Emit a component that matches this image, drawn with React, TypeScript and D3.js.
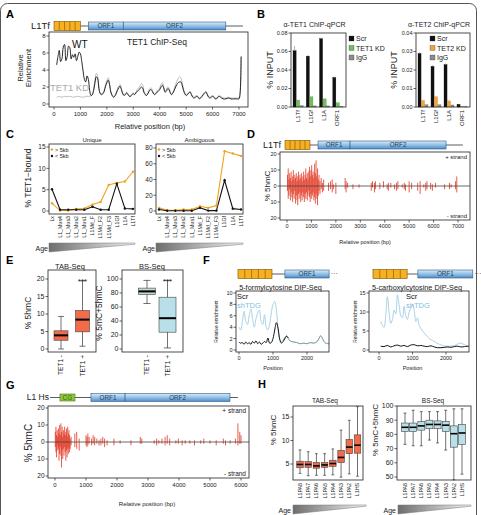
import React from 'react';
import * as d3 from 'd3';

const FONT = '"Liberation Sans", Arial, Helvetica, sans-serif';
const INK = '#222';
const RED = '#e1341e';
const TAB_FILL = '#f26b4b';
const BS_FILL = '#b9dfe9';
const SHTDG = '#a9d3e6';

// A: TET1 ChIP-Seq enrichment along L1Tf  [position bp, enrichment]
const chipWT: [number, number][] = [
  [100, 4.6], [150, 5.6], [200, 6.3], [250, 5.0], [300, 5.3], [350, 6.7], [400, 7.0], [450, 5.1],
  [500, 5.6], [550, 6.8], [600, 6.6], [650, 5.3], [700, 5.8], [750, 5.5], [800, 5.9], [850, 5.1],
  [900, 5.6], [950, 6.1], [1000, 5.9], [1050, 5.0], [1100, 3.9], [1150, 2.9], [1200, 2.6], [1250, 3.3],
  [1300, 2.9], [1350, 1.6], [1400, 1.0], [1450, 1.1], [1500, 1.6], [1550, 2.5], [1600, 3.2], [1650, 3.0],
  [1700, 1.8], [1750, 1.2], [1800, 1.1], [1850, 1.2], [1900, 1.5], [1950, 2.1], [2000, 2.5], [2050, 2.8],
  [2100, 2.3], [2150, 1.4], [2200, 1.0], [2250, 0.8], [2300, 0.9], [2350, 1.2], [2400, 1.6], [2450, 1.9],
  [2500, 2.1], [2550, 1.7], [2600, 1.2], [2650, 1.0], [2700, 1.1], [2750, 1.3], [2800, 1.1], [2850, 0.9],
  [2900, 0.9], [2950, 1.1], [3000, 1.2], [3050, 1.1], [3100, 1.3], [3150, 1.5], [3200, 1.6], [3250, 1.8],
  [3300, 2.0], [3350, 1.9], [3400, 1.4], [3450, 1.1], [3500, 1.0], [3550, 1.2], [3600, 1.5], [3650, 1.7],
  [3700, 1.6], [3750, 1.3], [3800, 1.1], [3850, 1.2], [3900, 1.4], [3950, 1.5], [4000, 1.7], [4050, 2.0],
  [4100, 2.2], [4150, 1.9], [4200, 1.4], [4250, 1.5], [4300, 1.8], [4350, 1.7], [4400, 1.3], [4450, 1.1],
  [4500, 1.3], [4550, 1.6], [4600, 2.0], [4650, 2.3], [4700, 2.5], [4750, 2.6], [4800, 2.6], [4850, 2.2],
  [4900, 1.6], [4950, 1.2], [5000, 1.0], [5050, 1.1], [5100, 1.3], [5150, 1.4], [5200, 1.1], [5250, 0.8],
  [5300, 0.7], [5350, 0.8], [5400, 0.9], [5450, 0.8], [5500, 0.6], [5550, 0.7], [5600, 0.9], [5650, 1.1],
  [5700, 1.3], [5750, 1.4], [5800, 1.1], [5850, 0.8], [5900, 0.7], [5950, 0.8], [6000, 0.9], [6050, 0.8],
  [6100, 0.6], [6150, 0.6], [6200, 0.8], [6250, 0.9], [6300, 0.8], [6400, 0.6], [6500, 0.6], [6600, 0.7],
  [6700, 0.6], [6800, 0.6], [6900, 0.6], [6950, 0.6], [7000, 0.6], [7040, 1.2], [7080, 5.6],
];
const chipKD: [number, number][] = [
  [100, 0.8], [200, 0.9], [300, 0.8], [400, 0.9], [500, 0.85], [600, 0.9], [700, 0.8], [800, 0.85],
  [900, 0.9], [1000, 0.85], [1100, 0.8], [1200, 0.9], [1300, 0.9], [1350, 0.9], [1400, 0.95], [1450, 1.1],
  [1500, 1.8], [1550, 2.8], [1600, 3.6], [1650, 3.3], [1700, 2.0], [1750, 1.3], [1800, 1.2], [1850, 1.3],
  [1900, 1.6], [1950, 2.3], [2000, 2.8], [2050, 3.1], [2100, 2.5], [2150, 1.5], [2200, 1.1], [2250, 0.9],
  [2300, 1.0], [2350, 1.3], [2400, 1.8], [2450, 2.1], [2500, 2.3], [2550, 1.8], [2600, 1.3], [2650, 1.1],
  [2700, 1.2], [2750, 1.4], [2800, 1.2], [2850, 1.0], [2900, 1.0], [2950, 1.2], [3000, 1.3], [3050, 1.2],
  [3100, 1.4], [3150, 1.7], [3200, 1.9], [3250, 2.1], [3300, 2.4], [3350, 2.3], [3400, 1.6], [3450, 1.2],
  [3500, 1.1], [3550, 1.3], [3600, 1.7], [3650, 1.9], [3700, 1.8], [3750, 1.4], [3800, 1.2], [3850, 1.3],
  [3900, 1.6], [3950, 1.7], [4000, 1.9], [4050, 2.3], [4100, 2.5], [4150, 2.1], [4200, 1.5], [4250, 1.7],
  [4300, 2.0], [4350, 1.9], [4400, 1.4], [4450, 1.2], [4500, 1.4], [4550, 1.8], [4600, 2.3], [4650, 2.7],
  [4700, 3.0], [4750, 3.2], [4800, 3.1], [4850, 2.5], [4900, 1.8], [4950, 1.3], [5000, 1.1], [5050, 1.2],
  [5100, 1.4], [5150, 1.5], [5200, 1.2], [5250, 0.9], [5300, 0.8], [5350, 0.9], [5400, 1.0], [5450, 0.9],
  [5500, 0.7], [5550, 0.8], [5600, 1.0], [5650, 1.2], [5700, 1.4], [5750, 1.5], [5800, 1.2], [5850, 0.9],
  [5900, 0.8], [5950, 0.9], [6000, 1.0], [6050, 0.9], [6100, 0.7], [6150, 0.7], [6200, 0.9], [6250, 1.0],
  [6300, 0.9], [6400, 0.7], [6500, 0.7], [6600, 0.8], [6700, 0.7], [6800, 0.7], [6900, 0.7], [6950, 0.7],
  [7000, 0.8], [7040, 1.3], [7080, 5.5],
];
const posTicks7k = [0, 1000, 2000, 3000, 4000, 5000, 6000, 7000];
const chipTicksY = [0, 2, 4, 6, 8];

// B: ChIP-qPCR (% input)
const qpcrTargets = ['L1Tf', 'L1Gf', 'L1A', 'ORF1'];
const tet1Scr = [0.061, 0.055, 0.074, 0.032];
const tet1ScrErr = [0.005, 0.001, 0.001, 0.001];
const tet1KD = [0.0075, 0.011, 0.0088, 0.0045];
const tet1IgG = [0.0015, 0.0012, 0.0012, 0.0008];
const tet2Scr = [0.029, 0.022, 0.023, 0.0015];
const tet2ScrErr = [0.0006, 0.0006, 0.0005, 0.0002];
const tet2KD = [0.0035, 0.0055, 0.0033, 0.0003];
const tet2IgG = [0.0012, 0.0012, 0.0011, 0.0002];
const tet1QTicks = [0, 0.02, 0.04, 0.06, 0.08];
const tet2QTicks = [0, 0.01, 0.02, 0.03, 0.04];

// C: % of elements TET1-bound per L1 family (oldest -> youngest)
const l1Families = ['Lx', 'L1_Mus4', 'L1_Mus3', 'L1_Mus2', 'L1_Mus1', 'L1Md_F', 'L1Md_F2', 'L1Md_F3', 'L1Gf', 'L1A', 'L1Tf'];
const uniqueLong = [1.8, 0.1, 0.1, 0.5, 0.6, 1.5, 2.1, 6.1, 6.6, 6.9, 9.2];
const uniqueShort = [5.1, 0.3, 0.3, 0.3, 0.3, 1.0, 0.3, 0.3, 6.4, 0.6, 0.5];
const ambigLong = [4, 1, 1, 2, 2, 6, 4, 7, 76, 73, 70];
const ambigShort = [2, 0.3, 0.3, 0.3, 0.3, 4, 0.5, 0.5, 39, 3, 2];
const uniqueTicks = [0, 5, 10, 15];
const ambigTicks = [0, 20, 40, 60, 80];

// D: TAB-Seq 5hmC along L1Tf  [position, + strand, - strand]
const l1TfHmc: [number, number, number][] = [
  [20, 7, 3], [50, 11, 8], [80, 4, 6], [110, 8, 2], [140, 5, 9], [170, 9, 4], [200, 3, 7], [230, 6, 10],
  [260, 10, 5], [290, 4, 8], [320, 7, 3], [350, 5, 11], [380, 8, 6], [410, 3, 9], [440, 6, 12], [470, 9, 5],
  [500, 4, 8], [530, 7, 4], [560, 5, 10], [590, 8, 6], [620, 3, 9], [650, 6, 4], [680, 9, 7], [710, 4, 10],
  [740, 7, 5], [770, 11, 8], [800, 5, 4], [830, 8, 9], [860, 4, 6], [890, 9, 3], [920, 12, 7], [950, 6, 10],
  [980, 10, 5], [1010, 13, 8], [1040, 7, 6], [1070, 9, 4], [1100, 5, 9], [1130, 14, 7], [1160, 8, 11],
  [1190, 16, 5], [1220, 6, 8], [1250, 11, 12], [1280, 4, 6], [1310, 7, 3], [1350, 3, 5], [1400, 5, 2],
  [1450, 2, 4], [1500, 4, 3],
  [1700, 2, 3], [1780, 3, 2], [1850, 4, 4], [1900, 1, 2], [2000, 2, 5], [2380, 5, 2], [2420, 3, 4],
  [2480, 2, 1], [2700, 1, 2], [2950, 1, 1], [3450, 2, 3], [3500, 3, 1], [3580, 2, 4], [3620, 3, 2],
  [3800, 2, 2], [3950, 3, 1], [4100, 1, 2], [4150, 2, 3], [4250, 2, 1], [4400, 1, 2], [4480, 2, 3],
  [4540, 3, 2], [4720, 1, 1], [4800, 2, 2], [4850, 1, 3], [5000, 3, 4], [5100, 2, 2], [5350, 2, 3],
  [5450, 3, 5], [5600, 1, 1], [5680, 2, 3], [5730, 3, 2], [5880, 2, 2], [5950, 1, 3], [6080, 2, 1],
  [6450, 1, 2], [6650, 2, 2], [6720, 1, 1], [6900, 3, 2], [6950, 6, 4],
];
const strandTicks = [-20, -10, 0, 10, 20];

// E: 5hmC / 5mC+5hmC by TET1 binding
const tetGroups = ['TET1 -', 'TET1 +'];
const tabLo = [0, 0.8];
const tabQ1 = [2.5, 4.9];
const tabMed = [3.9, 8.4];
const tabQ3 = [5.2, 11];
const tabHi = [9.3, 19.5];
const bsLo = [65, 1.5];
const bsQ1 = [77.6, 24];
const bsMed = [82.3, 44];
const bsQ3 = [87, 74];
const bsHi = [98, 98];
const tabTicksE = [0, 5, 10, 15, 20];
const bsTicksE = [0, 20, 40, 60, 80, 100];

// F: 5fC and 5caC DIP-Seq over L1 5' end  [position, enrichment]
const fcShTDG: [number, number][] = [
  [0, 4.0], [50, 3.5], [100, 5.0], [150, 6.8], [200, 5.0], [250, 4.5], [300, 6.0], [350, 7.2], [400, 5.5],
  [450, 4.0], [500, 5.5], [550, 6.5], [600, 7.0], [650, 5.0], [700, 4.5], [750, 6.2], [800, 4.0], [850, 3.5],
  [900, 4.5], [950, 6.5], [1000, 8.0], [1050, 8.5], [1100, 7.0], [1150, 3.5], [1200, 2.0], [1250, 1.5],
  [1300, 1.8], [1350, 2.2], [1400, 2.5], [1450, 2.0], [1500, 1.6], [1600, 1.4], [1700, 1.3], [1800, 1.1],
  [1900, 1.2], [2000, 1.1], [2100, 1.3], [2200, 1.2], [2300, 1.5], [2350, 2.0], [2400, 2.5], [2450, 2.1],
  [2500, 1.5], [2550, 1.2], [2650, 1.1],
];
const fcScr: [number, number][] = [
  [0, 1.4], [50, 1.2], [100, 1.3], [150, 1.0], [200, 1.4], [250, 1.1], [300, 1.3], [350, 1.0], [400, 1.5],
  [450, 1.2], [500, 1.6], [550, 1.1], [600, 1.4], [650, 1.0], [700, 1.2], [750, 1.5], [800, 1.3], [850, 2.1],
  [900, 1.2], [950, 1.3], [1000, 2.0], [1050, 3.5], [1100, 4.8], [1150, 3.8], [1200, 1.8], [1250, 1.2],
  [1300, 1.5], [1350, 2.0], [1400, 2.4], [1450, 2.1],
];
const cacShTDG: [number, number][] = [
  [50, 7.5], [100, 6.5], [150, 6.0], [200, 9.0], [250, 14.0], [300, 10.0], [350, 7.0], [400, 8.0],
  [450, 10.5], [500, 9.5], [550, 14.5], [600, 12.0], [650, 9.0], [700, 8.5], [750, 11.5], [800, 9.0],
  [850, 8.0], [900, 10.0], [950, 11.0], [1000, 12.0], [1050, 10.5], [1100, 7.5], [1150, 8.5], [1200, 6.5],
  [1300, 5.0], [1400, 4.0], [1500, 3.0], [1600, 2.5], [1700, 2.0], [1800, 1.5], [1900, 1.2], [2000, 1.0],
  [2100, 1.0], [2200, 1.1], [2300, 1.3], [2400, 1.8], [2500, 1.6], [2600, 1.2], [2680, 1.0],
];
const cacScr: [number, number][] = [
  [50, 1.0], [150, 0.9], [250, 1.2], [350, 0.8], [450, 1.1], [550, 1.3], [650, 1.0], [750, 1.2], [850, 0.9],
  [950, 1.3], [1050, 1.4], [1150, 1.1], [1250, 1.2], [1350, 1.0], [1450, 0.9], [1550, 1.1], [1650, 0.8],
  [1750, 0.6], [1850, 0.6], [1950, 0.7], [2050, 0.8], [2150, 0.7], [2250, 0.9], [2350, 1.0], [2450, 0.8],
  [2550, 0.9], [2680, 1.0],
];
const dipTicksX = [0, 1000, 2000];
const fcTicksY = [0, 2, 4, 6, 8, 10];
const cacTicksY = [0, 5, 10, 15];

// G: TAB-Seq 5hmC along human L1Hs  [position, + strand, - strand]
const l1HsHmc: [number, number, number][] = [
  [10, 6, 3], [30, 9, 6], [50, 4, 9], [70, 7, 2], [90, 3, 5], [110, 8, 4], [130, 5, 11], [150, 10, 7],
  [170, 4, 3], [190, 11, 8], [210, 6, 15], [230, 9, 5], [250, 3, 10], [270, 7, 4], [290, 5, 8], [310, 9, 3],
  [330, 4, 6], [350, 6, 11], [370, 8, 5], [390, 3, 9], [410, 9, 4], [430, 5, 7], [450, 7, 3], [470, 4, 6],
  [490, 2, 4], [520, 3, 2], [640, 5, 3], [700, 6, 4], [780, 2, 5], [1000, 4, 2], [1030, 3, 3], [1060, 5, 2],
  [1100, 3, 1], [1180, 2, 2], [1230, 4, 1], [1280, 3, 2], [1350, 2, 1], [1420, 1, 2], [1480, 2, 2],
  [1540, 3, 1], [1600, 2, 3], [1680, 1, 2], [1900, 2, 2], [2100, 1, 1], [2450, 1, 2], [2750, 3, 1],
  [2800, 2, 1], [3200, 1, 1], [3280, 2, 2], [3350, 1, 1], [3450, 2, 1], [3550, 3, 2], [3620, 4, 1],
  [3700, 2, 2], [3900, 1, 1], [3980, 2, 1], [4100, 1, 2], [4200, 1, 1], [4350, 1, 1], [4500, 1, 2],
  [4700, 1, 1], [4800, 2, 1], [5000, 1, 1], [5200, 1, 2], [5430, 2, 1], [5500, 1, 2], [5650, 1, 1],
  [5820, 2, 1], [5900, 11, 2], [5960, 6, 1], [6000, 4, 1],
];
const posTicks6k = [0, 1000, 2000, 3000, 4000, 5000, 6000];

// H: human L1PA subfamilies (oldest -> youngest)
const l1paFamilies = ['L1PA8', 'L1PA7', 'L1PA6', 'L1PA5', 'L1PA4', 'L1PA3', 'L1PA2', 'L1HS'];
const hTabLo = [3.0, 2.5, 2.6, 2.6, 2.7, 2.2, 2.9, 2.4];
const hTabQ1 = [4.2, 4.3, 4.1, 4.3, 4.5, 5.3, 7.2, 7.3];
const hTabMed = [4.9, 4.9, 4.6, 4.8, 5.1, 6.4, 8.6, 9.0];
const hTabQ3 = [5.6, 5.5, 5.3, 5.3, 5.8, 7.9, 10.2, 11.2];
const hTabHi = [8.0, 7.6, 7.2, 7.2, 8.2, 12.2, 14.3, 17.2];
const hBsLo = [73, 72, 72, 76, 74, 69, 48, 52];
const hBsQ1 = [82, 82, 83, 84, 84, 82, 71, 73];
const hBsMed = [85, 85, 86, 87, 87, 86.5, 80.5, 81];
const hBsQ3 = [88, 88, 89, 90, 89.5, 89, 86, 87];
const hBsHi = [95, 97, 96, 96, 96, 97, 98, 98];
const hTabTicks = [5, 10, 15];
const hBsTicks = [50, 60, 70, 80, 90, 100];

type S = (v: number) => number;

function YAxis({ scale, x, ticks, size = 6, fmt = (v: number) => String(v) }: { scale: S; x: number; ticks: number[]; size?: number; fmt?: (v: number) => string }) {
  return (
    <g>
      {ticks.map(t => (
        <g key={t}>
          <line x1={x - 2.5} x2={x} y1={scale(t)} y2={scale(t)} stroke={INK} strokeWidth={0.7} />
          <text x={x - 3.5} y={scale(t)} dy="0.35em" textAnchor="end" fontSize={size} fill={INK}>{fmt(t)}</text>
        </g>
      ))}
    </g>
  );
}

function XAxis({ scale, y, ticks, size = 6 }: { scale: S; y: number; ticks: number[]; size?: number }) {
  return (
    <g>
      {ticks.map(t => (
        <g key={t}>
          <line x1={scale(t)} x2={scale(t)} y1={y} y2={y + 2.5} stroke={INK} strokeWidth={0.7} />
          <text x={scale(t)} y={y + 3.5 + size * 0.85} textAnchor="middle" fontSize={size} fill={INK}>{t}</text>
        </g>
      ))}
    </g>
  );
}

function Frame({ x0, y0, x1, y1 }: { x0: number; y0: number; x1: number; y1: number }) {
  return <rect x={x0} y={y0} width={x1 - x0} height={y1 - y0} fill="none" stroke={INK} strokeWidth={0.8} />;
}

function VLabel({ x, y, size, children }: { x: number; y: number; size: number; children: React.ReactNode }) {
  return (
    <text transform={`translate(${x},${y}) rotate(-90)`} textAnchor="middle" fontSize={size} fill={INK}>{children}</text>
  );
}

function CatLabels({ cats, x, y, size }: { cats: string[]; x: (c: string) => number; y: number; size: number }) {
  return (
    <g>
      {cats.map(c => (
        <text key={c} transform={`translate(${x(c)},${y}) rotate(-90)`} textAnchor="end" dy="0.35em" fontSize={size} fill={INK}>{c}</text>
      ))}
    </g>
  );
}

function AgeWedge({ x0, x1, top, bottom, labelX }: { x0: number; x1: number; top: number; bottom: number; labelX: number }) {
  return (
    <g>
      <text x={labelX} y={bottom - 1} textAnchor="end" fontSize={7} fill={INK}>Age</text>
      <polygon points={`${x0},${top} ${x1},${top} ${x1},${top + 1.2} ${x0},${bottom}`} fill="url(#ageGrad)" stroke="#777" strokeWidth={0.5} />
    </g>
  );
}

// element map: monomer/CpG block, linker line, ORF boxes
function Gene({ x, cy, name, nameX, head, headKind, orfs, lineFrom, lineTo, dotsAt, nameSize = 9.5 }: {
  x: S; cy: number; name?: string; nameX?: number; head: [number, number]; headKind: 'monomer' | 'cg';
  orfs: [string, number, number][]; lineFrom: number; lineTo: number; dotsAt?: number; nameSize?: number;
}) {
  const hx0 = x(head[0]);
  const hx1 = x(head[1]);
  const cells = 5;
  return (
    <g>
      {name && <text x={nameX} y={cy + nameSize * 0.35} textAnchor="end" fontSize={nameSize} fill={INK}>{name}</text>}
      <line x1={x(lineFrom)} x2={x(lineTo)} y1={cy} y2={cy} stroke="#333" strokeWidth={0.8} />
      {headKind === 'monomer' ? (
        <g>
          <rect x={hx0} y={cy - 4.5} width={hx1 - hx0} height={9} fill="#f6b021" stroke="#7a5200" strokeWidth={0.6} />
          {d3.range(1, cells).map(i => (
            <line key={i} x1={hx0 + (i * (hx1 - hx0)) / cells} x2={hx0 + (i * (hx1 - hx0)) / cells} y1={cy - 4.5} y2={cy + 4.5} stroke="#7a5200" strokeWidth={0.6} />
          ))}
        </g>
      ) : (
        <g>
          <rect x={hx0} y={cy - 3.5} width={hx1 - hx0} height={7} fill="#8cc63e" stroke="#4d7a13" strokeWidth={0.6} />
          <text x={(hx0 + hx1) / 2} y={cy + 2.3} textAnchor="middle" fontSize={6.5} fill="#3d6a0a">CG</text>
        </g>
      )}
      {orfs.map(([label, a, b]) => (
        <g key={label}>
          <rect x={x(a)} y={cy - 4} width={x(b) - x(a)} height={8} fill="url(#orfGrad)" stroke="#2b5b86" strokeWidth={0.6} />
          <text x={(x(a) + x(b)) / 2} y={cy + 2.3} textAnchor="middle" fontSize={6.3} fill="#1d3d5c">{label}</text>
        </g>
      ))}
      {dotsAt !== undefined && <text x={x(dotsAt)} y={cy + 1.5} fontSize={7} fill="#333">···</text>}
    </g>
  );
}

function PanelA() {
  const x = d3.scaleLinear().domain([0, 7000]).range([54, 239]);
  const y = d3.scaleLinear().domain([0, 8]).range([104, 36]);
  const line = d3.line<[number, number]>().x(d => x(d[0])).y(d => y(d[1])).curve(d3.curveCatmullRom);
  return (
    <g>
      <text x={6} y={18} fontSize={11} fontWeight="bold">A</text>
      <Gene x={x} cy={26} name="L1Tf" nameX={50} head={[0, 1000]} headKind="monomer"
        orfs={[['ORF1', 1300, 2620], ['ORF2', 2620, 6500]]} lineFrom={1000} lineTo={7150} />
      <path d={line(chipKD) || ''} fill="none" stroke="#bdbdbd" strokeWidth={1} />
      <path d={line(chipWT) || ''} fill="none" stroke="#111" strokeWidth={0.9} />
      <Frame x0={49} y0={32} x1={248} y1={107} />
      <YAxis scale={y} x={49} ticks={chipTicksY} size={6} />
      <XAxis scale={x} y={107} ticks={posTicks7k} size={6} />
      <text x={157} y={45} textAnchor="middle" fontSize={8.5} fill={INK}>TET1 ChIP-Seq</text>
      <text x={72} y={48} fontSize={10} fill="#111">WT</text>
      <text x={50} y={91} fontSize={9.5} fill="#aaa">TET1 KD</text>
      <text x={150} y={129} textAnchor="middle" fontSize={7.5} fill={INK}>Relative position (bp)</text>
      <VLabel x={23} y={68} size={7.5}>Relative</VLabel>
      <VLabel x={31} y={68} size={7.5}>Enrichment</VLabel>
    </g>
  );
}

function QpcrPanel({ x0, x1, bandEnd, title, max, ticks, scr, scrErr, kd, igg, kdColor, kdLabel, legendX, ylabelX }: {
  x0: number; x1: number; bandEnd: number; title: string; max: number; ticks: number[]; scr: number[]; scrErr: number[];
  kd: number[]; igg: number[]; kdColor: string; kdLabel: string; legendX: number; ylabelX: number;
}) {
  const y = d3.scaleLinear().domain([0, max]).range([107, 33]);
  const xb = d3.scaleBand<string>().domain(qpcrTargets).range([x0, bandEnd]);
  const inner = d3.scaleBand<string>().domain(['scr', 'kd', 'igg']).range([2, xb.bandwidth() - 1]).paddingInner(0.12);
  const series: [string, number[], string][] = [['scr', scr, '#111'], ['kd', kd, kdColor], ['igg', igg, '#8c8c8c']];
  const legend: [string, string][] = [['Scr', '#111'], [kdLabel, kdColor], ['IgG', '#8c8c8c']];
  return (
    <g>
      <text x={(x0 + x1) / 2 - 4} y={26.5} textAnchor="middle" fontSize={7} fill={INK}>{title}</text>
      {series.map(([key, vals, color]) =>
        qpcrTargets.map((t, i) => (
          <rect key={key + t} x={(xb(t) || 0) + (inner(key) || 0)} y={y(vals[i])} width={inner.bandwidth()}
            height={y(0) - y(vals[i])} fill={color} stroke={key === 'scr' ? '#111' : d3.color(color)?.darker(0.8).toString()} strokeWidth={0.3} />
        ))
      )}
      {qpcrTargets.map((t, i) => {
        const cx = (xb(t) || 0) + (inner('scr') || 0) + inner.bandwidth() / 2;
        return <line key={t} x1={cx} x2={cx} y1={y(scr[i])} y2={y(scr[i] + scrErr[i])} stroke="#999" strokeWidth={0.8} />;
      })}
      <Frame x0={x0} y0={33} x1={x1} y1={107} />
      <YAxis scale={y} x={x0} ticks={ticks} size={5.5} fmt={d3.format('.2f')} />
      <CatLabels cats={qpcrTargets} x={t => (xb(t) || 0) + xb.bandwidth() / 2} y={110} size={6} />
      <VLabel x={ylabelX} y={70} size={9}>% INPUT</VLabel>
      {legend.map(([label, color], i) => (
        <g key={label}>
          <rect x={legendX} y={36 + i * 9.5} width={5} height={5} fill={color} stroke="#333" strokeWidth={0.3} />
          <text x={legendX + 7} y={41 + i * 9.5} fontSize={7} fill={INK}>{label}</text>
        </g>
      ))}
    </g>
  );
}

function TetBoundPanel({ x0, x1, title, max, ticks, long, short, ylabel }: {
  x0: number; x1: number; title: string; max: number; ticks: number[]; long: number[]; short: number[]; ylabel?: boolean;
}) {
  const y = d3.scaleLinear().domain([0, max]).range([211, max === 15 ? 147 : 148]);
  const x = d3.scalePoint<string>().domain(l1Families).range([x0 + 3, x1 - 2]);
  const line = d3.line<number>().x((_, i) => x(l1Families[i]) || 0).y(d => y(d));
  return (
    <g>
      <text x={(x0 + x1) / 2} y={142} textAnchor="middle" fontSize={6} fill={INK}>{title}</text>
      <path d={line(long) || ''} fill="none" stroke="#f0a21e" strokeWidth={1.1} />
      <path d={line(short) || ''} fill="none" stroke="#111" strokeWidth={1.1} />
      {long.map((v, i) => <circle key={'l' + i} cx={x(l1Families[i])} cy={y(v)} r={1.2} fill="#f0a21e" />)}
      {short.map((v, i) => <circle key={'s' + i} cx={x(l1Families[i])} cy={y(v)} r={1.2} fill="#111" />)}
      <Frame x0={x0} y0={144} x1={x1} y1={214} />
      <YAxis scale={y} x={x0} ticks={ticks} size={6.5} />
      <CatLabels cats={l1Families} x={c => x(c) || 0} y={216} size={5.3} />
      <circle cx={x0 + 3} cy={149.5} r={1.2} fill="#f0a21e" />
      <text x={x0 + 6} y={151.5} fontSize={5.5} fill={INK}>{'> 5kb'}</text>
      <circle cx={x0 + 3} cy={156} r={1.2} fill="#111" />
      <text x={x0 + 6} y={158} fontSize={5.5} fill={INK}>{'< 5kb'}</text>
      <AgeWedge x0={x0} x1={x1} top={243} bottom={252} labelX={x0 - 1} />
      {ylabel && <VLabel x={31} y={178} size={8.5}>% TET1−bound</VLabel>}
    </g>
  );
}

function StrandPanel({ data, x, y, box, labelSize, tickSize }: {
  data: [number, number, number][]; x: d3.ScaleLinear<number, number>; y: d3.ScaleLinear<number, number>;
  box: [number, number, number, number]; labelSize: number; tickSize: number;
}) {
  const [x0, y0, x1, y1] = box;
  return (
    <g>
      {data.map(([p, up, dn]) => (
        <g key={p}>
          <line x1={x(p)} x2={x(p)} y1={y(0)} y2={y(up)} stroke={RED} strokeWidth={0.8} />
          <line x1={x(p)} x2={x(p)} y1={y(0)} y2={y(-dn)} stroke={RED} strokeWidth={0.8} />
        </g>
      ))}
      <line x1={x0} x2={x1} y1={y(0)} y2={y(0)} stroke="#444" strokeWidth={0.8} />
      <Frame x0={x0} y0={y0} x1={x1} y1={y1} />
      <YAxis scale={y} x={x0} ticks={strandTicks} size={tickSize} fmt={v => String(Math.abs(v))} />
      <text x={x1 - 3} y={y0 + 6.5} textAnchor="end" fontSize={labelSize} fill={INK}>+ strand</text>
      <text x={x1 - 3} y={y1 - 2} textAnchor="end" fontSize={labelSize} fill={INK}>- strand</text>
    </g>
  );
}

function PanelD() {
  const x = d3.scaleLinear().domain([0, 7000]).range([287, 458]);
  const y = d3.scaleLinear().domain([-20, 20]).range([218, 154]);
  return (
    <g>
      <text x={247} y={138} fontSize={11} fontWeight="bold">D</text>
      <Gene x={x} cy={145} name="L1Tf" nameX={281} nameSize={9} head={[-80, 940]} headKind="monomer"
        orfs={[['ORF1', 1270, 2580], ['ORF2', 2580, 6510]]} lineFrom={940} lineTo={7200} />
      <StrandPanel data={l1TfHmc} x={x} y={y} box={[280, 152, 470, 220]} labelSize={6} tickSize={5.5} />
      <XAxis scale={x} y={220} ticks={posTicks7k} size={5.5} />
      <text x={365} y={244} textAnchor="middle" fontSize={5.5} fill={INK}>Relative position (bp)</text>
      <VLabel x={270} y={186} size={8}>% 5hmC</VLabel>
    </g>
  );
}

function PanelG() {
  const x = d3.scaleLinear().domain([0, 6000]).range([55, 241]);
  const y = d3.scaleLinear().domain([-20, 20]).range([476, 408]);
  return (
    <g>
      <text x={6} y={389} fontSize={11} fontWeight="bold">G</text>
      <Gene x={x} cy={397.5} name="L1 Hs" nameX={49} nameSize={8.5} head={[160, 645]} headKind="cg"
        orfs={[['ORF1', 1160, 2260], ['ORF2', 2260, 5645]]} lineFrom={-160} lineTo={5900} />
      <StrandPanel data={l1HsHmc} x={x} y={y} box={[48, 406, 249, 478]} labelSize={6.5} tickSize={6.5} />
      <XAxis scale={x} y={478} ticks={posTicks6k} size={6} />
      <text x={147} y={506} textAnchor="middle" fontSize={6} fill={INK}>Relative position (bp)</text>
      <VLabel x={32} y={443} size={10}>% 5hmC</VLabel>
    </g>
  );
}

function BoxSet({ cats, x, y, width, lo, q1, med, q3, hi, fills, medW = 2 }: {
  cats: string[]; x: (c: string) => number; y: S; width: number; lo: number[]; q1: number[]; med: number[];
  q3: number[]; hi: number[]; fills: string[]; medW?: number;
}) {
  return (
    <g>
      {cats.map((c, i) => {
        const cx = x(c);
        const cap = width * 0.42;
        return (
          <g key={c}>
            <line x1={cx} x2={cx} y1={y(hi[i])} y2={y(lo[i])} stroke="#333" strokeWidth={0.7} />
            <line x1={cx - cap / 2} x2={cx + cap / 2} y1={y(hi[i])} y2={y(hi[i])} stroke="#333" strokeWidth={0.7} />
            <line x1={cx - cap / 2} x2={cx + cap / 2} y1={y(lo[i])} y2={y(lo[i])} stroke="#333" strokeWidth={0.7} />
            <rect x={cx - width / 2} y={y(q3[i])} width={width} height={y(q1[i]) - y(q3[i])} fill={fills[i]} stroke="#444" strokeWidth={0.6} />
            <line x1={cx - width / 2} x2={cx + width / 2} y1={y(med[i])} y2={y(med[i])} stroke="#000" strokeWidth={medW} />
          </g>
        );
      })}
    </g>
  );
}

function PanelE() {
  const yTab = d3.scaleLinear().domain([0, 20]).range([349, 279]);
  const yBs = d3.scaleLinear().domain([0, 100]).range([349, 279]);
  const xTab = d3.scalePoint<string>().domain(tetGroups).range([61, 82.5]);
  const xBs = d3.scalePoint<string>().domain(tetGroups).range([147, 167.5]);
  return (
    <g>
      <text x={6} y={264} fontSize={11} fontWeight="bold">E</text>
      <text x={70} y={269} textAnchor="middle" fontSize={7.5} fill={INK}>TAB-Seq</text>
      <BoxSet cats={tetGroups} x={c => xTab(c) || 0} y={yTab} width={14} lo={tabLo} q1={tabQ1} med={tabMed} q3={tabQ3} hi={tabHi} fills={[TAB_FILL, TAB_FILL]} />
      <Frame x0={48} y0={270} x1={96} y1={352} />
      <YAxis scale={yTab} x={48} ticks={tabTicksE} size={7} />
      <CatLabels cats={tetGroups} x={c => xTab(c) || 0} y={355} size={6.5} />
      <text x={xTab('TET1 +')} y={284} textAnchor="middle" fontSize={8} fill={INK}>***</text>
      <VLabel x={31} y={313} size={8.5}>% 5hmC</VLabel>

      <text x={152} y={269} textAnchor="middle" fontSize={7.5} fill={INK}>BS-Seq</text>
      <BoxSet cats={tetGroups} x={c => xBs(c) || 0} y={yBs} width={17} lo={bsLo} q1={bsQ1} med={bsMed} q3={bsQ3} hi={bsHi} fills={['#c3d6d2', BS_FILL]} />
      <Frame x0={122} y0={270} x1={183} y1={352} />
      <YAxis scale={yBs} x={122} ticks={bsTicksE} size={7} />
      <CatLabels cats={tetGroups} x={c => xBs(c) || 0} y={355} size={6.5} />
      <text x={xBs('TET1 +')} y={284} textAnchor="middle" fontSize={8} fill={INK}>***</text>
      <VLabel x={102} y={313} size={8.5}>% 5mC+5hmC</VLabel>
    </g>
  );
}

function DipPanel({ x, y, box, title, ticksY, shTDG, scr, scrSplit, gene, labelX, ylabelX }: {
  x: d3.ScaleLinear<number, number>; y: d3.ScaleLinear<number, number>; box: [number, number, number, number]; title: string;
  ticksY: number[]; shTDG: [number, number][]; scr: [number, number][]; scrSplit?: number;
  gene: { head: [number, number]; orf: [number, number]; dots: number }; labelX: number; ylabelX: number;
}) {
  const [x0, y0, x1, y1] = box;
  const line = d3.line<[number, number]>().x(d => x(d[0])).y(d => y(d[1])).curve(d3.curveCatmullRom);
  const tail = scrSplit !== undefined ? shTDG.filter(d => d[0] >= scrSplit) : [];
  return (
    <g>
      <Gene x={x} cy={274} head={gene.head} headKind="monomer" orfs={[['ORF1', gene.orf[0], gene.orf[1]]]}
        lineFrom={gene.head[1]} lineTo={gene.orf[0]} dotsAt={gene.dots} />
      <text x={(x0 + x1) / 2 - 2} y={289.5} textAnchor="middle" fontSize={7.3} fill={INK}>{title}</text>
      <path d={line(shTDG) || ''} fill="none" stroke={SHTDG} strokeWidth={1} />
      {tail.length > 0 && <path d={line(tail) || ''} fill="none" stroke="#8a9ca4" strokeWidth={1} />}
      <path d={line(scr) || ''} fill="none" stroke="#111" strokeWidth={1} />
      <Frame x0={x0} y0={y0} x1={x1} y1={y1} />
      <YAxis scale={y} x={x0} ticks={ticksY} size={5.5} />
      <XAxis scale={x} y={y1} ticks={dipTicksX} size={5.5} />
      <text x={x(1000)} y={370} textAnchor="middle" fontSize={5.5} fill={INK}>Position</text>
      <VLabel x={ylabelX} y={(y0 + y1) / 2} size={4.8}>Relative enrichment</VLabel>
      <text x={labelX} y={298.5} fontSize={7.5} fill="#111">Scr</text>
      <text x={labelX} y={308} fontSize={7.5} fill="#7fc0de">shTDG</text>
    </g>
  );
}

function PanelF() {
  const xl = d3.scaleLinear().domain([0, 2000]).range([239, 307]);
  const yl = d3.scaleLinear().domain([0, 10]).range([350, 293]);
  const xr = d3.scaleLinear().domain([0, 2000]).range([379, 446]);
  const yr = d3.scaleLinear().domain([0, 15]).range([350, 293]);
  return (
    <g>
      <text x={203} y={264} fontSize={11} fontWeight="bold">F</text>
      <DipPanel x={xl} y={yl} box={[236, 291, 329, 352]} title="5-formylcytosine DIP-Seq" ticksY={fcTicksY}
        shTDG={fcShTDG} scr={fcScr} scrSplit={1300} gene={{ head: [-30, 970], orf: [1350, 2650], dots: 2700 }} labelX={237} ylabelX={218} />
      <DipPanel x={xr} y={yr} box={[369, 291, 469, 352]} title="5-carboxylcytosine DIP-Seq" ticksY={cacTicksY}
        shTDG={cacShTDG} scr={cacScr} gene={{ head: [-180, 840], orf: [1160, 2800], dots: 2850 }} labelX={406} ylabelX={357} />
    </g>
  );
}

function PanelH() {
  const yTab = d3.scaleLinear().domain([5, 15]).range([464, 417]);
  const yBs = d3.scaleLinear().domain([50, 100]).range([477, 406]);
  const xTab = d3.scalePoint<string>().domain(l1paFamilies).range([300, 357.5]);
  const xBs = d3.scalePoint<string>().domain(l1paFamilies).range([405, 462]);
  const tabFills = l1paFamilies.map(() => TAB_FILL);
  const bsFills = l1paFamilies.map(() => BS_FILL);
  return (
    <g>
      <text x={258} y={388} fontSize={11} fontWeight="bold">H</text>
      <text x={325} y={403} textAnchor="middle" fontSize={6.5} fill={INK}>TAB-Seq</text>
      <BoxSet cats={l1paFamilies} x={c => xTab(c) || 0} y={yTab} width={6.5} lo={hTabLo} q1={hTabQ1} med={hTabMed} q3={hTabQ3} hi={hTabHi} fills={tabFills} medW={1.6} />
      <Frame x0={293} y0={406} x1={363} y1={480} />
      <YAxis scale={yTab} x={293} ticks={hTabTicks} size={7} />
      <CatLabels cats={l1paFamilies} x={c => xTab(c) || 0} y={483} size={5.3} />
      <VLabel x={276} y={430} size={8}>% 5hmC</VLabel>
      <AgeWedge x0={293} x1={366} top={505} bottom={514} labelX={291} />

      <text x={433} y={403} textAnchor="middle" fontSize={6.5} fill={INK}>BS-Seq</text>
      <BoxSet cats={l1paFamilies} x={c => xBs(c) || 0} y={yBs} width={7} lo={hBsLo} q1={hBsQ1} med={hBsMed} q3={hBsQ3} hi={hBsHi} fills={bsFills} medW={1.6} />
      <Frame x0={397} y0={406} x1={471} y1={480} />
      <YAxis scale={yBs} x={397} ticks={hBsTicks} size={7} />
      <CatLabels cats={l1paFamilies} x={c => xBs(c) || 0} y={483} size={5.3} />
      <VLabel x={378} y={430} size={8}>% 5mC+5hmC</VLabel>
      <AgeWedge x0={398} x1={471} top={505} bottom={514} labelX={396} />
    </g>
  );
}

export default function App() {
  return (
    <svg width={481} height={515} style={{ position: 'absolute', left: 0, top: 0, fontFamily: FONT, background: '#fff' }}>
      <defs>
        <linearGradient id="orfGrad" x1="0" y1="0" x2="0" y2="1">
          <stop offset="0" stopColor="#dbeaf7" />
          <stop offset="0.5" stopColor="#93c0e6" />
          <stop offset="1" stopColor="#4f8cc6" />
        </linearGradient>
        <linearGradient id="ageGrad" x1="0" y1="0" x2="1" y2="0">
          <stop offset="0" stopColor="#6e6e6e" />
          <stop offset="1" stopColor="#f2f2f2" />
        </linearGradient>
      </defs>
      <rect x={0.5} y={3.5} width={476} height={540} rx={7} fill="#fff" stroke="#555" strokeWidth={1} />
      <PanelA />
      <text x={257} y={18} fontSize={11} fontWeight="bold">B</text>
      <QpcrPanel x0={291} x1={346} bandEnd={344} title="α-TET1 ChIP-qPCR" max={0.08} ticks={tet1QTicks}
        scr={tet1Scr} scrErr={tet1ScrErr} kd={tet1KD} igg={tet1IgG} kdColor="#72bd5d" kdLabel="TET1 KD" legendX={349} ylabelX={273} />
      <QpcrPanel x0={416} x1={470} bandEnd={468} title="α-TET2 ChIP-qPCR" max={0.04} ticks={tet2QTicks}
        scr={tet2Scr} scrErr={tet2ScrErr} kd={tet2KD} igg={tet2IgG} kdColor="#f2a43a" kdLabel="TET2 KD" legendX={430} ylabelX={397} />
      <text x={6} y={138} fontSize={11} fontWeight="bold">C</text>
      <TetBoundPanel x0={49} x1={135} title="Unique" max={15} ticks={uniqueTicks} long={uniqueLong} short={uniqueShort} ylabel />
      <TetBoundPanel x0={156} x1={243} title="Ambiguous" max={80} ticks={ambigTicks} long={ambigLong} short={ambigShort} />
      <PanelD />
      <PanelE />
      <PanelF />
      <PanelG />
      <PanelH />
    </svg>
  );
}
